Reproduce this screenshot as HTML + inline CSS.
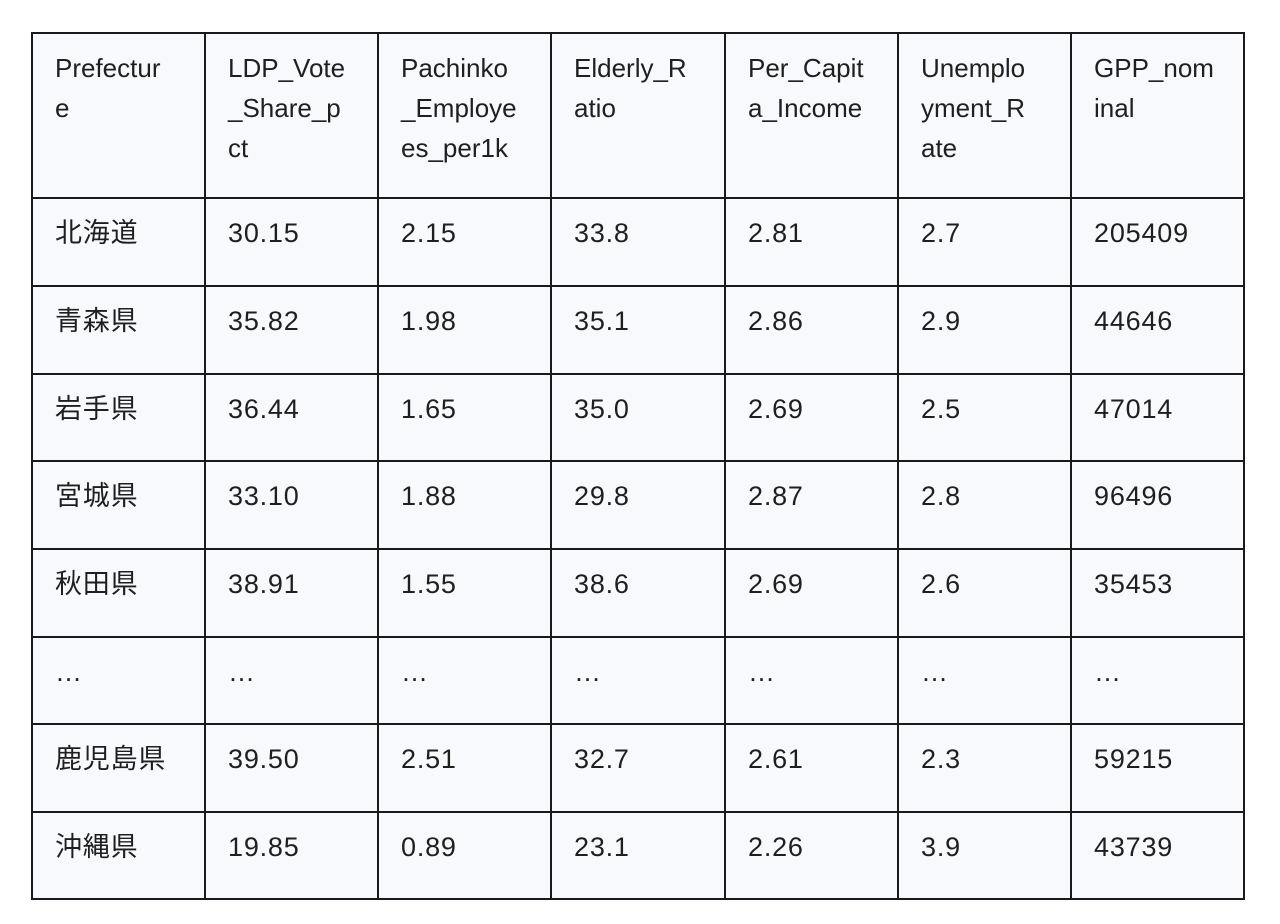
<!DOCTYPE html>
<html><head><meta charset="utf-8"><style>
html,body{margin:0;padding:0;background:#fff;width:1280px;height:924px;overflow:hidden}
.wrap{position:absolute;left:31px;top:32px;width:1212px;height:866px;background:#f8f9fd}
.h,.v{position:absolute;background:#1a1a1a}
.h{height:2px;left:31px;width:1214px}
.v{width:2px;top:32px;height:868px}
.c{position:absolute;font-family:"Liberation Sans","Noto Sans CJK JP",sans-serif;font-size:27px;letter-spacing:0.8px;line-height:40px;color:#1f1f1f;width:150px;white-space:nowrap}
.hd{font-size:26px;letter-spacing:0}
</style></head><body>
<div class="wrap"></div>
<div id="g"></div>
<script>
const xs=[31,204,377,550,724,897,1070,1243];
const ys=[32,197,285,373,460,548,636,723,811,898];
let h='';
xs.forEach(x=>h+=`<div class="v" style="left:${x}px"></div>`);
ys.forEach(y=>h+=`<div class="h" style="top:${y}px"></div>`);
const rows=[
["Prefectur<br>e","LDP_Vote<br>_Share_p<br>ct","Pachinko<br>_Employe<br>es_per1k","Elderly_R<br>atio","Per_Capit<br>a_Income","Unemplo<br>yment_R<br>ate","GPP_nom<br>inal"],
["北海道","30.15","2.15","33.8","2.81","2.7","205409"],
["青森県","35.82","1.98","35.1","2.86","2.9","44646"],
["岩手県","36.44","1.65","35.0","2.69","2.5","47014"],
["宮城県","33.10","1.88","29.8","2.87","2.8","96496"],
["秋田県","38.91","1.55","38.6","2.69","2.6","35453"],
["…","…","…","…","…","…","…"],
["鹿児島県","39.50","2.51","32.7","2.61","2.3","59215"],
["沖縄県","19.85","0.89","23.1","2.26","3.9","43739"]];
rows.forEach((r,i)=>{r.forEach((t,j)=>{
 const top=i==0?48:ys[i]+16;
 h+=`<div class="c${i==0?' hd':''}" style="left:${xs[j]+24}px;top:${top}px">${t}</div>`;
});});
document.getElementById('g').innerHTML=h;
</script>
</body></html>
